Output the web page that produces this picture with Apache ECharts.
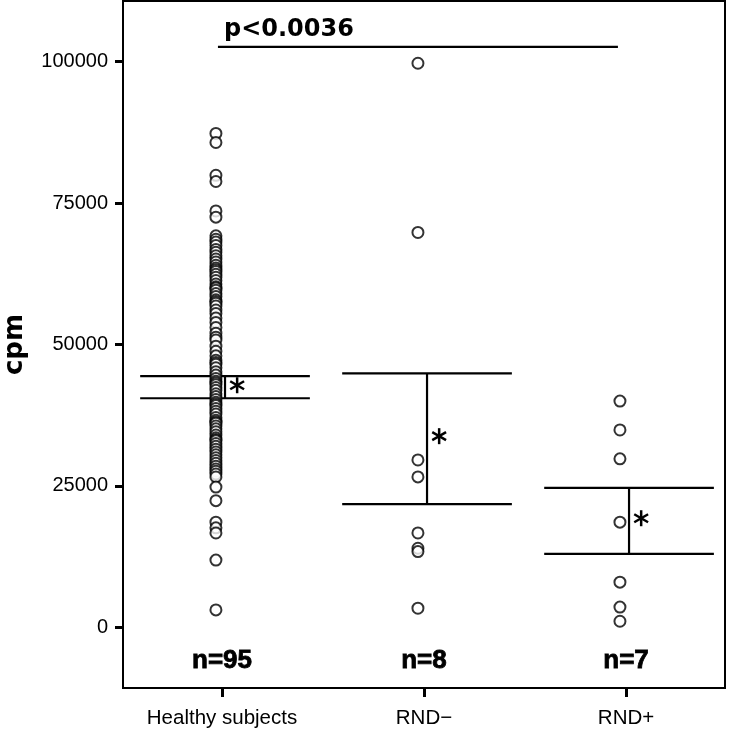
<!DOCTYPE html>
<html>
<head>
<meta charset="utf-8">
<script src="https://cdn.jsdelivr.net/npm/echarts@6/dist/echarts.min.js"></script>
<style>
  html, body { margin: 0; padding: 0; background: #fff; }
  #chart { width: 730px; height: 733px; }
</style>
</head>
<body>
<div id="chart"></div>
<script>
// categories and labels
var groups = ['Healthy subjects', 'RND\u2212', 'RND+'];
var nLabels = ['n=95', 'n=8', 'n=7'];
var yTicks = [0, 25000, 50000, 75000, 100000];

// individual values (cpm)
var healthy = [
  87300, 85700, 79900, 78800, 73600, 72500,
  69200, 68600, 68100, 67500, 66800, 66300, 65700, 65100, 64600, 64000,
  63500, 63200, 62900, 62400, 61900, 61300, 60700, 60200, 60000, 59600,
  59000, 58500, 57900, 57600, 57300, 56800, 56100, 55500, 54700, 53900,
  53000, 52000, 51300, 50800, 49700, 48800, 48000, 47200, 46800, 46500,
  45900, 45200, 44600, 44000, 43500, 43200, 42900, 42400, 41900, 41300,
  40800, 40300, 39800, 39500, 39200, 38700, 38200, 37700, 37100, 36600,
  36300, 36100, 35600, 35100, 34600, 34000, 33500, 33200, 33000, 32500,
  32000, 31500, 31000, 30500, 30000, 29500, 29000, 28500, 28000, 27600,
  27100, 26600,
  24800, 22400, 18600, 17600, 16700, 11900, 3100
];
var rndMinus = [99700, 69800, 29600, 26600, 16700, 14000, 13400, 3400];
var rndPlus = [40000, 34900, 29800, 18600, 8000, 3600, 1100];

// mean (asterisk) and interval bars
var means = [42800, 33800, 19300];
var ciLow = [40500, 21800, 13000];
var ciHigh = [44400, 44900, 24650];

// significance annotation
var pText = 'p<0.0036';
var pLevel = 102600;
var nLevel = -5900;

var allGroups = [healthy, rndMinus, rndPlus];
var points = [];
allGroups.forEach(function (vals, i) {
  vals.forEach(function (v) { points.push([i - 0.03, v]); });
});

var chart = echarts.init(document.getElementById('chart'));

function drawBars(params, api) {
  var i = api.value(0), m = api.value(1), lo = api.value(2), hi = api.value(3);
  var c = i + 0.015, hw = 0.42;
  var style = { stroke: '#000', lineWidth: 2.2 };
  var a1 = api.coord([c - hw, hi]), a2 = api.coord([c + hw, hi]);
  var b1 = api.coord([c - hw, lo]), b2 = api.coord([c + hw, lo]);
  var v1 = api.coord([c, hi]), v2 = api.coord([c, lo]);
  var s = api.coord([i + 0.075, m]);
  var r = 8;
  var kids = [
    { type: 'line', shape: { x1: a1[0], y1: a1[1], x2: a2[0], y2: a2[1] }, style: style },
    { type: 'line', shape: { x1: b1[0], y1: b1[1], x2: b2[0], y2: b2[1] }, style: style },
    { type: 'line', shape: { x1: v1[0], y1: v1[1], x2: v2[0], y2: v2[1] }, style: style }
  ];
  [90, 30, 150].forEach(function (deg) {
    var t = deg * Math.PI / 180;
    kids.push({
      type: 'line',
      shape: { x1: s[0] - r * Math.cos(t), y1: s[1] - r * Math.sin(t), x2: s[0] + r * Math.cos(t), y2: s[1] + r * Math.sin(t) },
      style: { stroke: '#000', lineWidth: 2.5 }
    });
  });
  return { type: 'group', children: kids };
}

function drawNotes(params, api) {
  var p1 = api.coord([-0.02, pLevel]), p2 = api.coord([1.96, pLevel]);
  var pt = api.coord([0.01, pLevel]);
  var kids = [
    { type: 'line', shape: { x1: p1[0], y1: p1[1], x2: p2[0], y2: p2[1] }, style: { stroke: '#000', lineWidth: 2.2 } },
    { type: 'text', style: { text: pText, x: pt[0], y: pt[1] - 5, fill: '#000', fontSize: 24, fontWeight: 'bold', fontFamily: 'DejaVu Sans', align: 'left', verticalAlign: 'bottom' } }
  ];
  nLabels.forEach(function (t, i) {
    var q = api.coord([i, nLevel]);
    kids.push({ type: 'text', style: { text: t, x: q[0], y: q[1], fill: '#000', fontSize: 26, fontWeight: 'bold', fontFamily: "'Liberation Sans', Arial, sans-serif", align: 'center', verticalAlign: 'middle', stroke: '#000', lineWidth: 0.8 } });
  });
  return { type: 'group', children: kids };
}

chart.setOption({
  animation: false,
  backgroundColor: '#fff',
  grid: {
    left: 123, right: 5, top: 1, bottom: 45,
    containLabel: false, outerBoundsMode: 'none',
    show: true, borderColor: '#000', borderWidth: 2
  },
  xAxis: {
    type: 'value',
    min: -0.49,
    max: 2.49,
    splitLine: { show: false },
    axisLine: { onZero: false, lineStyle: { color: '#000', width: 2 } },
    axisTick: { customValues: [0, 1, 2], length: 9, lineStyle: { color: '#000', width: 3 } },
    axisLabel: {
      customValues: [0, 1, 2],
      formatter: function (v) { return groups[Math.round(v)]; },
      color: '#000', fontSize: 20.5, fontFamily: "'Liberation Sans', Arial, sans-serif", margin: 20
    }
  },
  yAxis: {
    type: 'value',
    min: -10700,
    max: 110700,
    name: 'cpm',
    nameLocation: 'middle',
    nameRotate: 90,
    nameGap: 95,
    nameTextStyle: { color: '#000', fontSize: 26, fontWeight: 'bold', fontFamily: 'DejaVu Sans' },
    splitLine: { show: false },
    axisLine: { onZero: false, lineStyle: { color: '#000', width: 2 } },
    axisTick: { customValues: yTicks, length: 8, lineStyle: { color: '#000', width: 3 } },
    axisLabel: {
      customValues: yTicks,
      formatter: function (v) { return String(v); },
      color: '#000', fontSize: 20, fontFamily: "'Liberation Sans', Arial, sans-serif", margin: 15
    }
  },
  series: [
    {
      type: 'custom',
      renderItem: drawBars,
      data: means.map(function (m, i) { return [i, m, ciLow[i], ciHigh[i]]; }),
      z: 2
    },
    {
      type: 'scatter',
      data: points,
      symbol: 'emptyCircle',
      symbolSize: 11,
      itemStyle: { color: '#000', borderColor: '#000', borderWidth: 3 },
      z: 3
    },
    {
      type: 'custom',
      renderItem: drawNotes,
      data: [[0, pLevel]],
      z: 4
    }
  ]
});
</script>
</body>
</html>
